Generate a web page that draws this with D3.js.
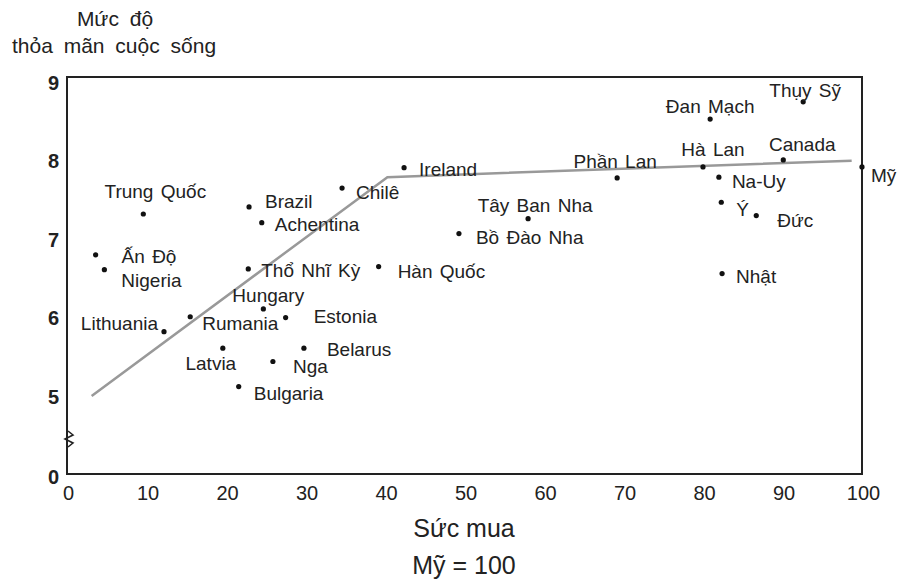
<!DOCTYPE html>
<html>
<head>
<meta charset="utf-8">
<script src="https://cdn.jsdelivr.net/npm/d3@7"></script>
<style>
  body { margin: 0; background: #fff; }
  text { font-family: "Liberation Sans", Arial, sans-serif; fill: #222; }
</style>
</head>
<body>
<svg width="899" height="587"></svg>
<script>
// data
var countries = ["Trung Quốc","Ấn Độ","Nigeria","Brazil","Achentina","Chilê","Ireland",
  "Tây Ban Nha","Bồ Đào Nha","Thổ Nhĩ Kỳ","Hàn Quốc","Hungary","Rumania","Lithuania",
  "Estonia","Latvia","Belarus","Nga","Bulgaria","Phần Lan","Đan Mạch","Thụy Sỹ",
  "Hà Lan","Canada","Mỹ","Na-Uy","Ý","Đức","Nhật"];
var purchasing = [9.6,3.6,4.7,22.9,24.5,34.6,42.4,58.0,49.3,22.8,39.2,24.7,15.5,12.2,
  27.5,19.6,29.8,25.9,21.6,69.2,80.9,92.6,80.0,90.1,100,82.0,82.3,86.7,82.4];
var satisfaction = [7.33,6.81,6.62,7.42,7.22,7.66,7.92,7.27,7.08,6.63,6.66,6.12,6.02,5.83,
  6.01,5.62,5.62,5.45,5.13,7.79,8.54,8.76,7.93,8.02,7.93,7.80,7.48,7.31,6.57];
var trendX = [3.1, 40.3, 98.7];
var trendY = [5.01, 7.80, 8.01];
var xTicks = [0,10,20,30,40,50,60,70,80,90,100];
var yTicks = [0,5,6,7,8,9];

// label placement next to each dot: anchor, dx, dy (pixels)
var labelPos = [["middle",12,-16],["start",26,8],["start",17,17],["start",16,1],["start",13,8],
  ["start",14,11],["start",15,8],["middle",7,-7],["start",17,10],["start",13,8],["start",19,11],
  ["start",-31,-7],["start",12,13],["end",-6,-2],["start",28,5],["middle",-12,22],["start",23,8],
  ["start",20,12],["start",15,13],["middle",-2,-10],["middle",0,-6],["middle",2,-5],
  ["middle",10,-11],["middle",19,-9],["start",9,15],["start",13,11],["start",15,14],
  ["start",21,11],["start",14,9]];

var svg = d3.select("svg");

var x = d3.scaleLinear().domain([0, 100]).range([67, 862]);
var y = d3.scaleLinear().domain([0, 4.5, 9]).range([474, 436, 83]);
var plotTop = 77;

var points = countries.map(function(c, i) {
  return {name: c, x: purchasing[i], y: satisfaction[i], pos: labelPos[i]};
});

// frame
svg.append("path")
    .attr("d", "M" + x(0) + "," + plotTop + "H" + x(100) + "V" + y(0) + "H" + x(0) + "Z")
    .attr("fill", "none")
    .attr("stroke", "#222")
    .attr("stroke-width", 2);

// axis break on the left side
svg.append("path")
    .attr("d", "M" + (x(0) + 1) + ",431 l5,4 l-8,4 l8,4 l-5,4")
    .attr("fill", "none")
    .attr("stroke", "#222")
    .attr("stroke-width", 1.6);

// axes (labels only)
var xAxis = svg.append("g")
    .attr("transform", "translate(0," + y(0) + ")")
    .call(d3.axisBottom(x).tickValues(xTicks).tickSize(0).tickPadding(12));
xAxis.select(".domain").remove();
xAxis.selectAll("text")
    .style("font-size", "20px")
    .attr("dx", 1)
    .attr("fill", "#333");

var yAxis = svg.append("g")
    .attr("transform", "translate(" + (x(0) - 8) + ",0)")
    .call(d3.axisLeft(y).tickValues(yTicks).tickSize(0).tickPadding(0));
yAxis.select(".domain").remove();
yAxis.selectAll("text")
    .style("font-size", "20px")
    .style("font-weight", "bold")
    .attr("fill", "#333");
yAxis.selectAll(".tick").filter(function(d) { return d === 0; })
    .select("text").attr("dy", "0.45em");

// trend line
var line = d3.line()
    .x(function(d) { return x(d[0]); })
    .y(function(d) { return y(d[1]); });

svg.append("path")
    .datum(trendX.map(function(v, i) { return [v, trendY[i]]; }))
    .attr("d", line)
    .attr("fill", "none")
    .attr("stroke", "#999")
    .attr("stroke-width", 2.5);

// dots and labels
var node = svg.append("g")
    .selectAll("g")
    .data(points)
    .enter().append("g")
    .attr("transform", function(d) { return "translate(" + x(d.x) + "," + y(d.y) + ")"; });

node.append("circle")
    .attr("r", 2.6)
    .attr("fill", "#111");

node.append("text")
    .text(function(d) { return d.name; })
    .attr("text-anchor", function(d) { return d.pos[0]; })
    .attr("x", function(d) { return d.pos[1]; })
    .attr("y", function(d) { return d.pos[2]; })
    .style("font-size", "19px")
    .style("word-spacing", "2px");

// titles
svg.append("text")
    .attr("x", 115).attr("y", 26)
    .attr("text-anchor", "middle")
    .style("font-size", "21px")
    .style("word-spacing", "5px")
    .text("Mức độ");
svg.append("text")
    .attr("x", 114).attr("y", 53)
    .attr("text-anchor", "middle")
    .style("font-size", "21px")
    .style("word-spacing", "5px")
    .text("thỏa mãn cuộc sống");

svg.append("text")
    .attr("x", 464).attr("y", 537)
    .attr("text-anchor", "middle")
    .style("font-size", "25px")
    .text("Sức mua");
svg.append("text")
    .attr("x", 464).attr("y", 574)
    .attr("text-anchor", "middle")
    .style("font-size", "25px")
    .text("Mỹ = 100");
</script>
</body>
</html>
